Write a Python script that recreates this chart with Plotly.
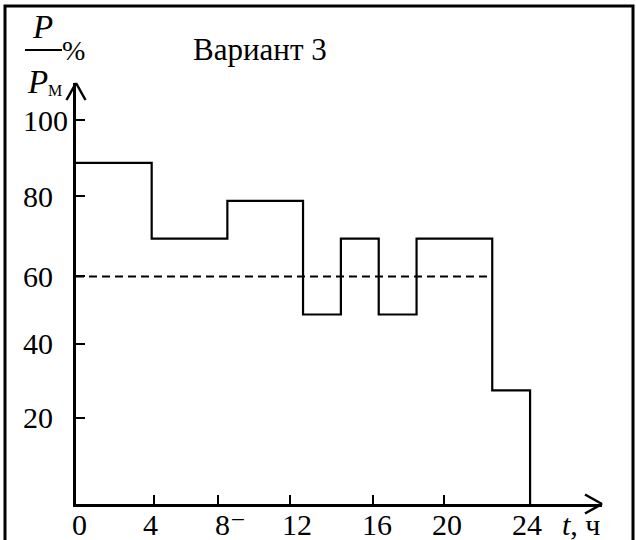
import plotly.graph_objects as go

# ---- data ----
hour_edges = [0, 4, 8, 12, 14, 16, 18, 22, 24]
load_pct = [90, 70, 80, 50, 70, 50, 70, 30]
avg_pct = 60
avg_end_hour = 22

x_tick_pos = [4.14, 7.49, 11.29, 15.70, 19.45, 24.0]
x_label_pos = [0.16, 3.96, 8.19, 11.68, 15.9, 19.6, 23.86]
x_labels = ["0", "4", "8⁻", "12", "16", "20", "24"]
y_tick_pos = [22.8, 42.3, 60.1, 81.2, 101.3]
y_labels = ["20", "40", "60", "80", "100"]
title_text = "Вариант 3"
x_axis_title = "<i>t</i>, ч"

# ---- layout geometry (pixels) ----
FW, FH = 636, 540
L, R, T, B = 76, 34, 83, 36
W = FW - L - R
H = FH - T - B
X_MAX = W / 18.92
Y_MAX = H / 3.79
FONT = "Times New Roman, Liberation Serif, DejaVu Serif, serif"


def px(xp, yp):
    return (xp - L) / W, (FH - B - yp) / H


step_x = hour_edges + [hour_edges[-1]]
step_y = load_pct + [load_pct[-1], 0]

fig = go.Figure()
fig.add_trace(go.Scatter(x=step_x, y=step_y, mode="lines", line_shape="hv",
                         line=dict(color="black", width=2.2), cliponaxis=False,
                         hoverinfo="skip", showlegend=False))
fig.add_trace(go.Scatter(x=[0, avg_end_hour], y=[avg_pct, avg_pct], mode="lines",
                         line=dict(color="black", width=2, dash="8px,5px"),
                         hoverinfo="skip", showlegend=False))

shapes = []
# outer frame
fx0, fy1 = px(5, 6)
fx1, fy0 = px(633, 560)
shapes.append(dict(type="rect", xref="paper", yref="paper", x0=fx0, x1=fx1, y0=fy0, y1=fy1,
                   line=dict(color="black", width=3)))
# arrow heads
alen, ahw = 17, 9.5
for sgn in (-1, 1):
    shapes.append(dict(type="line", xref="paper", yref="paper",
                       x0=1, y0=0, x1=1 - alen / W, y1=sgn * ahw / H,
                       line=dict(color="black", width=2.5)))
    shapes.append(dict(type="line", xref="paper", yref="paper",
                       x0=0, y0=1, x1=sgn * ahw / W, y1=1 - alen / H,
                       line=dict(color="black", width=2.5)))
# fraction bar
bx0, by = px(25, 50)
bx1, _ = px(62, 50)
shapes.append(dict(type="line", xref="paper", yref="paper", x0=bx0, x1=bx1, y0=by, y1=by,
                   line=dict(color="black", width=2)))

ann = []
for pos, lab in zip(x_label_pos, x_labels):
    ann.append(dict(x=pos, y=px(0, 524)[1], xref="x", yref="paper", text=lab,
                    showarrow=False, xanchor="center", yanchor="middle",
                    font=dict(family=FONT, size=30, color="black")))
for pos, lab in zip(y_tick_pos, y_labels):
    ann.append(dict(x=px(21, 0)[0], y=pos, xref="paper", yref="y", text=lab,
                    showarrow=False, xanchor="left", yanchor="middle",
                    font=dict(family=FONT, size=30, color="black")))


def txt(xp, yp, text, size, anchor="center"):
    x, y = px(xp, yp)
    ann.append(dict(x=x, y=y, xref="paper", yref="paper", text=text, showarrow=False,
                    xanchor=anchor, yanchor="middle",
                    font=dict(family=FONT, size=size, color="black")))


txt(581, 524, x_axis_title, 30)
txt(260, 50, title_text, 31)
txt(42, 27, "<i>P</i>", 33)
txt(73, 51, "%", 28)
txt(37, 82, "<i>P</i>", 33)
txt(55, 90, "М", 16)

axis_common = dict(showline=True, linecolor="black", linewidth=3, showgrid=False,
                   zeroline=False, ticks="inside", ticklen=9, tickwidth=2,
                   tickcolor="black", showticklabels=False, fixedrange=True)
fig.update_layout(
    width=FW, height=FH, autosize=False,
    margin=dict(l=L, r=R, t=T, b=B, pad=0),
    paper_bgcolor="white", plot_bgcolor="white",
    font=dict(family=FONT, color="black"),
    xaxis=dict(range=[0, X_MAX], tickmode="array", tickvals=x_tick_pos, **axis_common),
    yaxis=dict(range=[0, Y_MAX], tickmode="array", tickvals=y_tick_pos, **axis_common),
    shapes=shapes, annotations=ann, showlegend=False,
)
fig.write_html("out.html", config={"displayModeBar": False},
               post_script="document.body.style.margin='0';document.body.style.padding='0';")
